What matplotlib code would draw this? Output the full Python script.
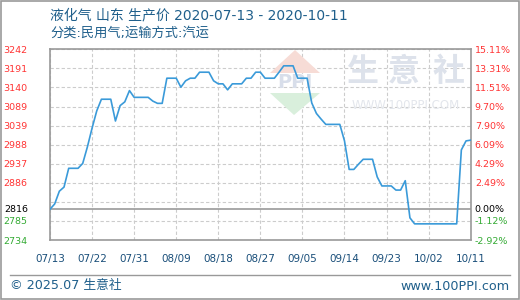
import matplotlib
matplotlib.use("Agg")
import matplotlib.pyplot as plt
from matplotlib.patches import Polygon, Rectangle
from matplotlib.lines import Line2D
import numpy as np

plt.rcParams['font.family'] = ['Noto Sans CJK SC', 'DejaVu Sans']

title = "液化气 山东 生产价 2020-07-13 - 2020-10-11"
subtitle = "分类:民用气;运输方式:汽运"
footer_left = "© 2025.07 生意社"
footer_right = "www.100PPI.com"

# daily prices 2020-07-13 .. 2020-10-11
prices = [2816, 2830, 2864, 2875, 2925, 2925, 2925, 2938, 2982, 3032,
          3078, 3109, 3109, 3109, 3051, 3092, 3102, 3132, 3114, 3114,
          3114, 3114, 3104, 3098, 3098, 3165, 3165, 3165, 3141, 3158,
          3165, 3165, 3181, 3181, 3181, 3158, 3150, 3150, 3134, 3150,
          3150, 3150, 3165, 3165, 3181, 3181, 3165, 3165, 3165, 3181,
          3198, 3198, 3198, 3165, 3165, 3165, 3099, 3071, 3056, 3042,
          3042, 3042, 3042, 2998, 2922, 2922, 2936, 2949, 2949, 2949,
          2902, 2878, 2878, 2878, 2867, 2867, 2892, 2793, 2777, 2777,
          2777, 2777, 2777, 2777, 2777, 2777, 2777, 2777, 2974, 2998,
          3000]

x_labels = ["07/13", "07/22", "07/31", "08/09", "08/18", "08/27",
            "09/05", "09/14", "09/23", "10/02", "10/11"]
y_min, y_max = 2734, 3242
base_price = 2816
left_labels = ["2734", "2785", "", "2886", "2937", "2988", "3039",
               "3089", "3140", "3191", "3242"]
right_labels = ["-2.92%", "-1.12%", "", "2.49%", "4.29%", "6.09%", "7.90%",
                "9.70%", "11.51%", "13.31%", "15.11%"]

W, H = 520, 300
fig = plt.figure(figsize=(W / 100, H / 100), dpi=100)
fig.patch.set_facecolor("white")

L, R, T, B = 50, 470.7, 49.3, 240
ax = fig.add_axes([L / W, 1 - B / H, (R - L) / W, (B - T) / H])
ax.set_facecolor("white")

n = len(prices)
xs = np.arange(n)
ax.set_xlim(0, n - 1)
ax.set_ylim(y_min, y_max)

step_x = (n - 1) / (len(x_labels) - 1)
xt = [i * step_x for i in range(len(x_labels))]
ax.set_xticks(xt)
ax.set_xticklabels(x_labels, family="DejaVu Sans", fontsize=7.5, color="#1a4f7a")

ny = len(left_labels)
yt = list(np.linspace(y_min, y_max, ny))
ax.set_yticks(yt)
ax.set_yticklabels(left_labels, family="DejaVu Sans", fontsize=6.8)
for lab, v in zip(ax.get_yticklabels(), left_labels):
    lab.set_color("#33aa33" if v and float(v) < base_price else "#ff3333")

ax.tick_params(axis="both", length=0)
ax.tick_params(axis="x", pad=10)
ax.tick_params(axis="y", pad=16)
ax.grid(True, color="#cccccc", linestyle=(0, (3, 2)), linewidth=0.8)
ax.set_axisbelow(True)
for s in ax.spines.values():
    s.set_color("#999999")
    s.set_linewidth(1.2)

ax.axhline(base_price, color="#999999", linewidth=1.2, zorder=2)
ax.text(-0.052, base_price, str(base_price), transform=ax.get_yaxis_transform(),
        ha="right", va="center", fontsize=6.8, family="DejaVu Sans", color="black")

ax2 = ax.twinx()
ax2.set_ylim(y_min, y_max)
ax2.set_yticks(yt)
ax2.set_yticklabels(right_labels, family="DejaVu Sans", fontsize=6.8)
for lab, v in zip(ax2.get_yticklabels(), right_labels):
    lab.set_color("#33aa33" if v.startswith("-") else "#ff3333")
ax2.tick_params(axis="y", length=0, pad=3)
for s in ax2.spines.values():
    s.set_visible(False)
ax2.text(1.008, base_price, "0.00%", transform=ax2.get_yaxis_transform(),
         ha="left", va="center", fontsize=6.8, family="DejaVu Sans", color="black")

# watermark
def fx(x):
    return x / W

def fy(y):
    return 1 - y / H

ax.add_patch(Polygon([(fx(270), fy(73)), (fx(295), fy(50)), (fx(320), fy(73))],
                     closed=True, transform=fig.transFigure, facecolor="#f7dcd6",
                     edgecolor="none", zorder=1))
ax.add_patch(Polygon([(fx(270), fy(93)), (fx(320), fy(93)), (fx(294), fy(115))],
                     closed=True, transform=fig.transFigure, facecolor="#d9efdc",
                     edgecolor="none", zorder=1))
ax.text(fx(295), fy(82), "PPI", transform=fig.transFigure, ha="center", va="center",
        fontsize=14, fontweight="bold", family="DejaVu Sans", color="#d8deea", zorder=1)
for ch, cx in zip("生意社", [362, 404, 449]):
    ax.text(fx(cx), fy(72), ch, transform=fig.transFigure, ha="center", va="center",
            fontsize=23, fontweight="bold", color="#dde2eb", zorder=1)
ax.text(fx(406), fy(106), "WWW.100PPI.COM", transform=fig.transFigure, ha="center",
        va="center", fontsize=8.5, family="DejaVu Sans", color="#e3e6ec", zorder=1)

ax.plot(xs, prices, color="#3a9ad9", linewidth=1.2, zorder=3)

# titles
mixed = ["DejaVu Sans", "Noto Sans CJK SC"]
fig.text(fx(50), fy(15), title, ha="left", va="center", fontsize=10,
         family=mixed, color="#1f5f8b")
fig.text(fx(50), fy(33), subtitle, ha="left", va="center", fontsize=9.5,
         family=mixed, color="#1f5f8b")

# footer
fig.add_artist(Line2D([fx(10), fx(510)], [fy(275), fy(275)], color="#999999",
                      linewidth=1, transform=fig.transFigure))
fig.text(fx(10), fy(286), footer_left, ha="left", va="center", fontsize=9.2,
         family=mixed, color="#1f5f8b")
fig.text(fx(510), fy(286), footer_right, ha="right", va="center", fontsize=9.2,
         family=mixed, color="#1f5f8b")

fig.add_artist(Rectangle((0.001, 0.002), 0.997, 0.995, transform=fig.transFigure,
                         fill=False, edgecolor="#999999", linewidth=1.2))

fig.savefig("out.png", dpi=100, facecolor="white")
